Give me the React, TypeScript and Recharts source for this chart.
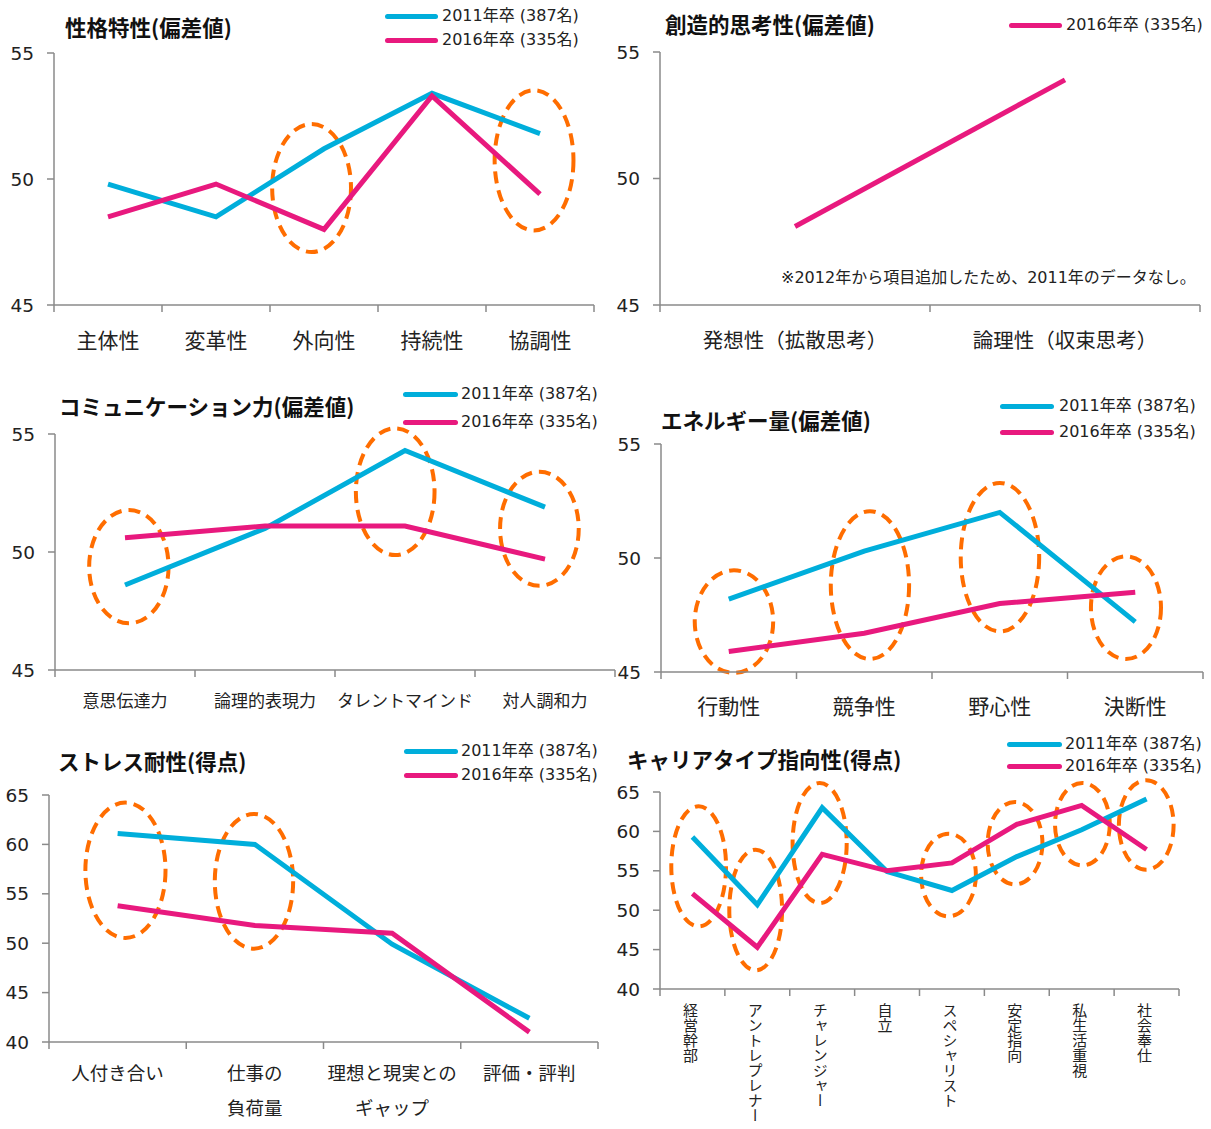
import React from 'react';
import { LineChart, Line, XAxis, YAxis, ReferenceArea } from 'recharts';

const CYAN = '#00AEDB';
const PINK = '#E8197E';
const ORANGE = '#FF6D00';
const AXIS = '#8a8a8a';
const TEXT = '#222';
const JP = '"Noto Sans CJK JP", sans-serif';
const NUM = '"DejaVu Sans", "Noto Sans CJK JP", sans-serif';

const NAME_2011 = '2011年卒 (387名)';
const NAME_2016 = '2016年卒 (335名)';

// 性格特性
const personalityCats = ['主体性', '変革性', '外向性', '持続性', '協調性'];
const personality2011 = [49.8, 48.5, 51.2, 53.4, 51.8];
const personality2016 = [48.5, 49.8, 48.0, 53.3, 49.4];

// 創造的思考性
const creativeCats = ['発想性（拡散思考）', '論理性（収束思考）'];
const creative2016 = [48.1, 53.9];

// コミュニケーション力
const commCats = ['意思伝達力', '論理的表現力', 'タレントマインド', '対人調和力'];
const comm2011 = [48.6, 51.0, 54.3, 51.9];
const comm2016 = [50.6, 51.1, 51.1, 49.7];

// エネルギー量
const energyCats = ['行動性', '競争性', '野心性', '決断性'];
const energy2011 = [48.2, 50.3, 52.0, 47.2];
const energy2016 = [45.9, 46.7, 48.0, 48.5];

// ストレス耐性
const stressCats = ['人付き合い', '仕事の\n負荷量', '理想と現実との\nギャップ', '評価・評判'];
const stress2011 = [61.1, 60.0, 49.9, 42.4];
const stress2016 = [53.8, 51.8, 51.0, 41.0];

// キャリアタイプ指向性
const careerCats = ['経営幹部', 'アントレプレナー', 'チャレンジャー', '自立', 'スペシャリスト', '安定指向', '私生活重視', '社会奉仕'];
const career2011 = [59.3, 50.7, 63.0, 54.9, 52.5, 56.8, 60.2, 64.1];
const career2016 = [52.1, 45.3, 57.1, 55.0, 56.0, 60.9, 63.3, 57.7];

const ticks55 = [45, 50, 55];
const ticks65 = [40, 45, 50, 55, 60, 65];

// dashed highlight ellipses, [x1, x2, y1, y2] in axis units (category index from 0)
const personalityMarks = [[2.02, 2.75, 47.1, 52.18], [4.08, 4.81, 47.96, 53.52]];
const commMarks = [[0.244, 0.811, 46.98, 51.78], [2.149, 2.711, 49.87, 55.24], [3.179, 3.741, 48.57, 53.4]];
const energyMarks = [[0.249, 0.828, 44.96, 49.46], [1.253, 1.831, 45.57, 52.05], [2.212, 2.791, 46.78, 53.29], [3.173, 3.69, 45.57, 50.07]];
const stressMarks = [[0.265, 0.849, 50.53, 64.23], [1.208, 1.779, 49.45, 63.08]];
const careerMarks = [
  [0.174, 1.018, 47.95, 63.18], [1.068, 1.882, 42.37, 57.68], [2.044, 2.878, 50.91, 66.14],
  [4.025, 4.869, 49.22, 59.71], [5.051, 5.895, 53.28, 63.73], [6.089, 6.933, 55.69, 66.14],
  [7.073, 7.917, 55.14, 66.48],
];

type Series = { name: string; color: string; values: number[] };
type Cfg = {
  title: string; tx: number; ty: number;
  cats: string[]; series: Series[];
  domain: [number, number]; yTicks: number[]; marks: number[][];
  x0: number; y0: number; x1: number; y1: number;
  fs: number; off: number; gap?: number; vertical?: boolean; axisH: number;
  legend: { x0: number; x1: number; tx: number; ys: number[] };
  note?: { text: string; x: number; y: number };
};

const ellipseShape = (p: any) => (
  <ellipse
    cx={p.x + p.width / 2}
    cy={p.y + p.height / 2}
    rx={Math.abs(p.width) / 2}
    ry={Math.abs(p.height) / 2}
    fill="none"
    stroke={ORANGE}
    strokeWidth={4}
    strokeDasharray="12 7"
  />
);

const YW = 70;
const MT = 30;
const MR = 20;

function Panel({ c }: { c: Cfg }) {
  const n = c.cats.length;
  const rows = c.cats.map((_, i) => {
    const r: any = { x: i + 0.5 };
    c.series.forEach((s, k) => { r['s' + k] = s.values[i]; });
    return r;
  });
  const xTicks = Array.from({ length: 2 * n + 1 }, (_, k) => k / 2);

  const renderTick = (p: any) => {
    const v = p.payload.value;
    if (Number.isInteger(v)) {
      return <line x1={p.x} y1={p.y} x2={p.x} y2={p.y + 7} stroke={AXIS} strokeWidth={1.5} />;
    }
    const label = c.cats[Math.floor(v)];
    if (c.vertical) {
      return (
        <text x={p.x - 2} y={p.y + c.off} fontSize={c.fs} fill={TEXT} fontFamily={JP}
          style={{ writingMode: 'vertical-rl' } as any}>{label}</text>
      );
    }
    const lines = label.split('\n');
    return (
      <text textAnchor="middle" fontSize={c.fs} fill={TEXT} fontFamily={JP}>
        {lines.map((l, i) => (
          <tspan key={i} x={p.x} y={p.y + c.off + i * (c.gap || 0) + 0.38 * c.fs}>{l}</tspan>
        ))}
      </text>
    );
  };

  const w = c.x1 - c.x0 + YW + MR;
  const h = c.y1 - c.y0 + MT + c.axisH;

  return (
    <>
      <div style={{ position: 'absolute', left: c.x0 - YW, top: c.y0 - MT }}>
        <LineChart width={w} height={h} data={rows} margin={{ top: MT, right: MR, left: 0, bottom: 0 }}>
          <XAxis
            dataKey="x" type="number" domain={[0, n]} ticks={xTicks} interval={0}
            tick={renderTick} tickLine={false} tickSize={0} tickMargin={0}
            axisLine={{ stroke: AXIS, strokeWidth: 1.5 }} height={c.axisH}
          />
          <YAxis
            type="number" domain={c.domain} ticks={c.yTicks} interval={0} width={YW}
            tick={{ fontSize: 18.5, fill: TEXT, fontFamily: NUM }}
            tickLine={{ stroke: AXIS, strokeWidth: 1.5 }} tickSize={7} tickMargin={13}
            axisLine={{ stroke: AXIS, strokeWidth: 1.5 }}
          />
          {c.series.map((s, k) => (
            <Line key={s.name} dataKey={'s' + k} type="linear" stroke={s.color} strokeWidth={5}
              dot={false} activeDot={false} isAnimationActive={false} />
          ))}
          {c.marks.map((m, i) => (
            <ReferenceArea key={i} x1={m[0]} x2={m[1]} y1={m[2]} y2={m[3]}
              ifOverflow="visible" shape={ellipseShape} />
          ))}
        </LineChart>
      </div>
      <div style={{
        position: 'absolute', left: c.tx, top: c.ty - 15, lineHeight: '30px', fontSize: 21.5,
        fontWeight: 700, fontFamily: JP, color: '#111', whiteSpace: 'nowrap',
      }}>{c.title}</div>
      {c.series.map((s, k) => (
        <React.Fragment key={s.name}>
          <div style={{
            position: 'absolute', left: c.legend.x0, top: c.legend.ys[k] - 2.5,
            width: c.legend.x1 - c.legend.x0, height: 5, borderRadius: 2.5, background: s.color,
          }} />
          <div style={{
            position: 'absolute', left: c.legend.tx, top: c.legend.ys[k] - 11, lineHeight: '22px',
            fontSize: 16, fontFamily: NUM, color: TEXT, whiteSpace: 'nowrap',
          }}>{s.name}</div>
        </React.Fragment>
      ))}
      {c.note && (
        <div style={{
          position: 'absolute', left: c.note.x, top: c.note.y - 11, lineHeight: '22px',
          fontSize: 16, fontFamily: NUM, color: TEXT, whiteSpace: 'nowrap',
        }}>{c.note.text}</div>
      )}
    </>
  );
}

const panels: Cfg[] = [
  {
    title: '性格特性(偏差値)', tx: 65, ty: 27,
    cats: personalityCats,
    series: [
      { name: NAME_2011, color: CYAN, values: personality2011 },
      { name: NAME_2016, color: PINK, values: personality2016 },
    ],
    domain: [45, 55], yTicks: ticks55, marks: personalityMarks,
    x0: 54, y0: 53, x1: 594, y1: 305, fs: 21, off: 35, axisH: 60,
    legend: { x0: 385, x1: 438, tx: 442, ys: [16, 40] },
  },
  {
    title: '創造的思考性(偏差値)', tx: 665, ty: 24,
    cats: creativeCats,
    series: [{ name: NAME_2016, color: PINK, values: creative2016 }],
    domain: [45, 55], yTicks: ticks55, marks: [],
    x0: 660, y0: 52, x1: 1200, y1: 305, fs: 20.5, off: 35, axisH: 60,
    legend: { x0: 1009, x1: 1062, tx: 1066, ys: [25] },
    note: { text: '※2012年から項目追加したため、2011年のデータなし。', x: 781, y: 278 },
  },
  {
    title: 'コミュニケーション力(偏差値)', tx: 59, ty: 406,
    cats: commCats,
    series: [
      { name: NAME_2011, color: CYAN, values: comm2011 },
      { name: NAME_2016, color: PINK, values: comm2016 },
    ],
    domain: [45, 55], yTicks: ticks55, marks: commMarks,
    x0: 55, y0: 434, x1: 615, y1: 670, fs: 17, off: 31, axisH: 50,
    legend: { x0: 403, x1: 458, tx: 461, ys: [394, 422] },
  },
  {
    title: 'エネルギー量(偏差値)', tx: 661, ty: 420,
    cats: energyCats,
    series: [
      { name: NAME_2011, color: CYAN, values: energy2011 },
      { name: NAME_2016, color: PINK, values: energy2016 },
    ],
    domain: [45, 55], yTicks: ticks55, marks: energyMarks,
    x0: 661, y0: 444, x1: 1203, y1: 672, fs: 21, off: 34, axisH: 55,
    legend: { x0: 1000, x1: 1054, tx: 1059, ys: [406, 432] },
  },
  {
    title: 'ストレス耐性(得点)', tx: 58, ty: 761,
    cats: stressCats,
    series: [
      { name: NAME_2011, color: CYAN, values: stress2011 },
      { name: NAME_2016, color: PINK, values: stress2016 },
    ],
    domain: [40, 65], yTicks: ticks65, marks: stressMarks,
    x0: 49, y0: 795, x1: 598, y1: 1042, fs: 18.5, off: 31, gap: 35, axisH: 85,
    legend: { x0: 404, x1: 458, tx: 461, ys: [751, 775] },
  },
  {
    title: 'キャリアタイプ指向性(得点)', tx: 627, ty: 759,
    cats: careerCats,
    series: [
      { name: NAME_2011, color: CYAN, values: career2011 },
      { name: NAME_2016, color: PINK, values: career2016 },
    ],
    domain: [40, 65], yTicks: ticks65, marks: careerMarks,
    x0: 660, y0: 792, x1: 1179, y1: 989, fs: 15, off: 14, vertical: true, axisH: 138,
    legend: { x0: 1007, x1: 1062, tx: 1065, ys: [744, 766] },
  },
];

export default function App() {
  return (
    <div style={{
      position: 'absolute', left: 0, top: 0, width: 1211, height: 1129,
      background: '#fff', overflow: 'hidden', fontFamily: JP,
    }}>
      {panels.map((p) => <Panel key={p.title} c={p} />)}
    </div>
  );
}
